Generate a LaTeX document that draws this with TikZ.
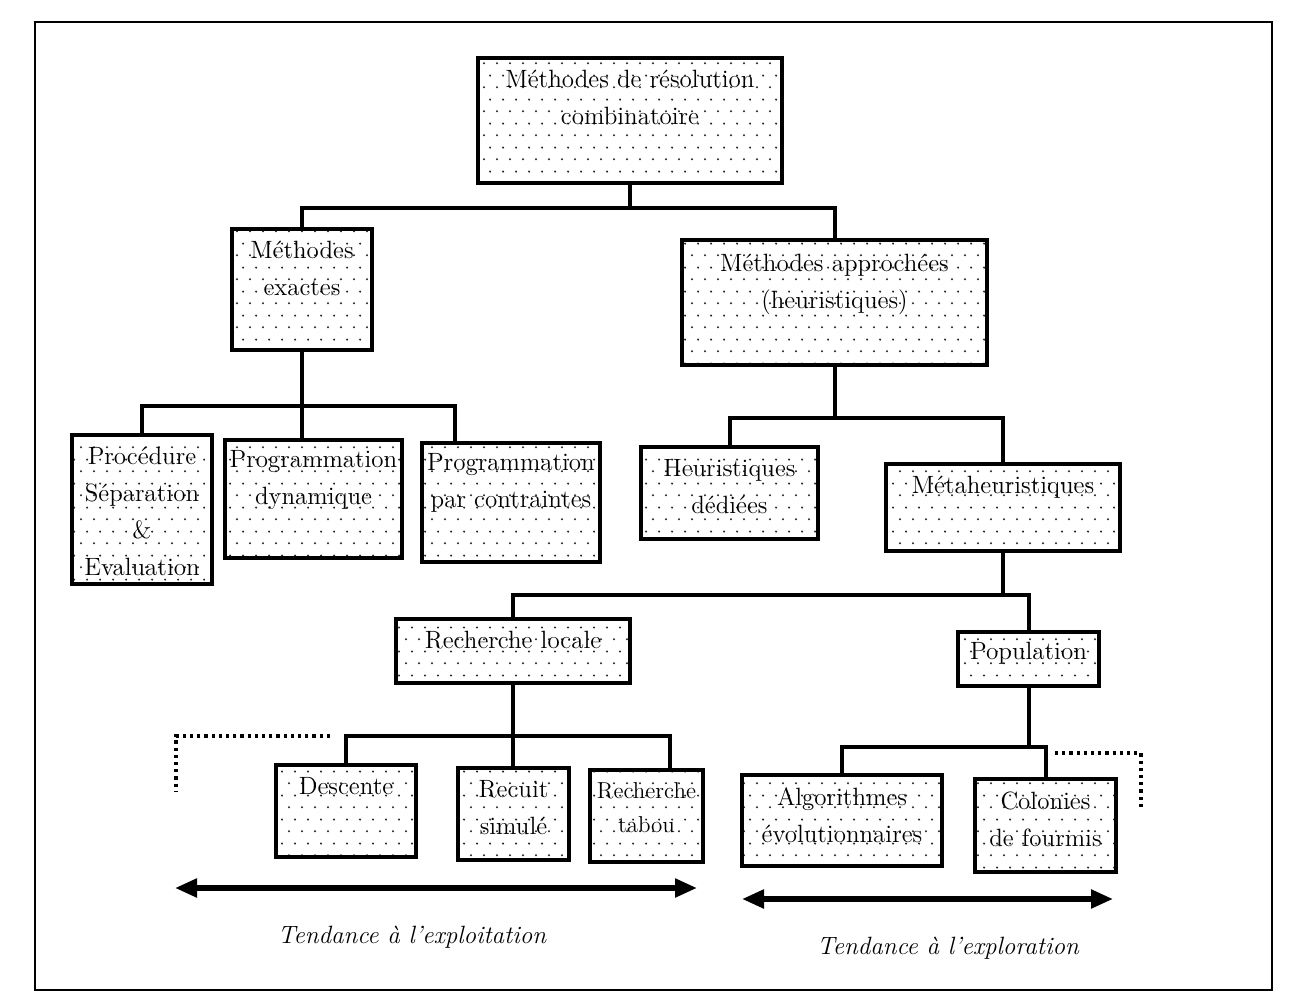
\documentclass[tikz,border=0pt]{standalone}
\usepackage{fontspec}
\usetikzlibrary{arrows.meta,patterns.meta}

% trame de points des boites
\tikzdeclarepattern{
  name=points,
  type=uncolored,
  bounding box={(0,0) and (6.5pt,12pt)},
  tile size={(6.5pt,12pt)},
  code={
    \fill (1.6pt,3pt) circle (0.6pt);
    \fill (4.85pt,9pt) circle (0.6pt);
  }
}

\begin{document}
\begin{tikzpicture}[x=0.5pt,y=-0.5pt,
    boite/.style={draw=black,line width=2pt,pattern=points,pattern color=black!85,inner sep=0pt},
    txt/.style={anchor=north,align=center,inner sep=0pt,yshift=-7pt,font=\fontsize{12.5}{18.5}\selectfont},
    lien/.style={line width=2pt},
    pointille/.style={line width=1.6pt,dotted},
    fleche/.style={line width=2.6pt,{Triangle[length=11pt,width=9pt]}-{Triangle[length=11pt,width=9pt]}},
    tendance/.style={font=\fontsize{12.5}{15}\selectfont\itshape}]
    \useasboundingbox (0,0) rectangle (1289,1005);
    % cadre
    \draw[line width=1.3pt] (35,22) rectangle (1272,990);
    % boites
    \node[boite,minimum width=152pt,minimum height=62.5pt] (racine) at (630,120.5) {};
    \node[txt] (racine-t) at (racine.north) {Méthodes de résolution\\combinatoire};
    \node[boite,minimum width=70pt,minimum height=60.5pt] (exactes) at (302,289.5) {};
    \node[txt] (exactes-t) at (exactes.north) {Méthodes\\exactes};
    \node[boite,minimum width=152.5pt,minimum height=62.5pt] (approchees) at (834.5,302.5) {};
    \node[txt,yshift=-1pt] (approchees-t) at (approchees.north) {Méthodes approchées\\(heuristiques)};
    \node[boite,minimum width=70pt,minimum height=74.5pt] (pse) at (142,509.5) {};
    \node[txt] (pse-t) at (pse.north) {Procédure\\Séparation\\\&\\Evaluation};
    \node[boite,minimum width=88.5pt,minimum height=59pt] (pd) at (313.5,499) {};
    \node[txt,yshift=1pt] (pd-t) at (pd.north) {Programmation\\dynamique};
    \node[boite,minimum width=89pt,minimum height=59.5pt] (pc) at (511,502.5) {};
    \node[txt,yshift=1pt] (pc-t) at (pc.north) {Programmation\\par contraintes};
    \node[boite,minimum width=88.5pt,minimum height=46pt] (hd) at (729.5,493) {};
    \node[txt] (hd-t) at (hd.north) {Heuristiques\\dédiées};
    \node[boite,minimum width=117pt,minimum height=43.5pt] (meta) at (1003,507.5) {};
    \node[txt] (meta-t) at (meta.north) {Métaheuristiques};
    \node[boite,minimum width=117pt,minimum height=32pt] (rl) at (513,651) {};
    \node[txt] (rl-t) at (rl.north) {Recherche locale};
    \node[boite,minimum width=70.5pt,minimum height=27pt] (pop) at (1028.5,659) {};
    \node[txt,yshift=1pt] (pop-t) at (pop.north) {Population};
    \node[boite,minimum width=70pt,minimum height=46pt] (desc) at (346,811) {};
    \node[txt] (desc-t) at (desc.north) {Descente};
    \node[boite,minimum width=55.5pt,minimum height=46pt] (recuit) at (513.5,814) {};
    \node[txt] (recuit-t) at (recuit.north) {Recuit\\simulé};
    \node[boite,minimum width=56.5pt,minimum height=46pt] (tabou) at (646.5,816) {};
    \node[txt,font=\fontsize{11.5}{17}\selectfont] (tabou-t) at (tabou.north) {Recherche\\tabou};
    \node[boite,minimum width=100pt,minimum height=45.5pt] (algo) at (842,820.5) {};
    \node[txt] (algo-t) at (algo.north) {Algorithmes\\évolutionnaires};
    \node[boite,minimum width=70.5pt,minimum height=46.5pt] (colonies) at (1045.5,825.5) {};
    \node[txt] (colonies-t) at (colonies.north) {Colonies\\de fourmis};
    % liens entre les boites
    \coordinate (n1) at (630,208);
    \draw[lien] (racine.south) -- (n1);
    \draw[lien] (exactes.north) |- (n1) -| (approchees.north);
    \coordinate (n2d) at (455,406);
    \draw[lien] (exactes.south) -- (pd.north -| exactes.south);
    \draw[lien] (pse.north) |- (n2d) -- (n2d |- pc.north);
    \coordinate (n3) at (834.5,418);
    \draw[lien] (approchees.south) -- (n3);
    \draw[lien] (hd.north) |- (n3) -| (meta.north);
    \coordinate (n4) at (1003,595);
    \draw[lien] (meta.south) -- (n4);
    \draw[lien] (rl.north) |- (n4) -| (pop.north);
    \coordinate (n5d) at (670,736);
    \draw[lien] (rl.south) -- (recuit.north -| rl.south);
    \draw[lien] (desc.north) |- (n5d) -- (n5d |- tabou.north);
    \coordinate (n6) at (1028.5,747);
    \draw[lien] (pop.south) -- (n6);
    \draw[lien] (algo.north) |- (n6) -| (colonies.north);
    % pointilles
    \draw[pointille] (330,736) -| (176,792);
    \draw[pointille] (1055,753) -| (1141,808);
    % fleches et tendances
    \coordinate (f1g) at (175,888);
    \coordinate (f1d) at (697,888);
    \draw[fleche] (f1g) -- (f1d);
    \node[tendance] (t1) at (412,937) {Tendance à l’exploitation};
    \coordinate (f2g) at (742,899);
    \coordinate (f2d) at (1113,899);
    \draw[fleche] (f2g) -- (f2d);
    \node[tendance] (t2) at (948,948) {Tendance à l’exploration};
\end{tikzpicture}
\end{document}
